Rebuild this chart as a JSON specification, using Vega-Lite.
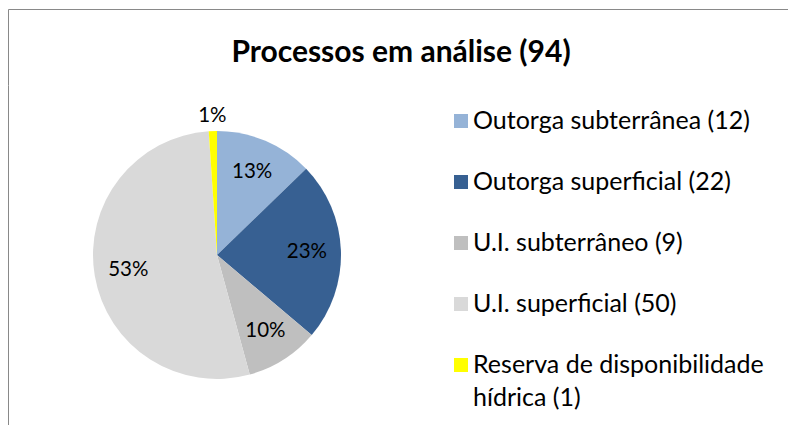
{
  "$schema": "https://vega.github.io/schema/vega-lite/v6.json",
  "padding": {"left": 8, "top": 9, "right": 0, "bottom": 0},
  "background": "white",
  "spacing": 0,
  "config": {
    "view": {"stroke": null},
    "font": "Lato",
    "concat": {"spacing": 0},
    "axis": {"domainColor": "#898989", "domainWidth": 1, "ticks": false, "labels": false, "grid": false, "title": null}
  },
  "datasets": {
    "proc": [
      {"cat": "Outorga subterrânea", "n": 12},
      {"cat": "Outorga superficial", "n": 22},
      {"cat": "U.I. subterrâneo", "n": 9},
      {"cat": "U.I. superficial", "n": 50},
      {"cat": "Reserva de disponibilidade hídrica", "n": 1}
    ]
  },
  "vconcat": [
    {
      "width": 780,
      "height": 76,
      "data": {"values": [{"t": "Processos em análise (94)"}]},
      "layer": [
        {
          "mark": {"type": "text", "fontSize": 30, "fontWeight": "bold", "dx": 3, "dy": 6, "color": "black"},
          "encoding": {"text": {"field": "t"}}
        },
        {
          "mark": {"type": "point", "opacity": 0, "size": 0},
          "encoding": {
            "x": {"datum": 0.5, "type": "quantitative", "scale": {"domain": [0, 1]}, "axis": {"orient": "top"}},
            "y": {"datum": 0.5, "type": "quantitative", "scale": {"domain": [0, 1]}, "axis": {"orient": "left"}}
          }
        }
      ]
    },
    {
      "spacing": 0,
      "hconcat": [
        {
          "width": 418,
          "height": 340,
          "data": {"name": "proc"},
          "transform": [
            {"window": [{"op": "row_number", "as": "rank"}]},
            {"joinaggregate": [{"op": "sum", "field": "n", "as": "total"}]},
            {"calculate": "format(datum.n / datum.total, '.0%')", "as": "pl"}
          ],
          "layer": [
            {
              "mark": {"type": "arc", "radius": 124},
              "encoding": {
                "theta": {"field": "n", "type": "quantitative", "stack": true},
                "order": {"field": "rank"},
                "color": {
                  "field": "cat", "type": "nominal",
                  "scale": {
                    "domain": ["Outorga subterrânea", "Outorga superficial", "U.I. subterrâneo", "U.I. superficial", "Reserva de disponibilidade hídrica"],
                    "range": ["#95B3D7", "#376092", "#BFBFBF", "#D9D9D9", "#FFFF00"]
                  },
                  "legend": null
                }
              }
            },
            {
              "mark": {"type": "text", "radius": 90, "fontSize": 20.5, "color": "black"},
              "encoding": {
                "theta": {"field": "n", "type": "quantitative", "stack": true},
                "order": {"field": "rank"},
                "text": {"field": "pl", "condition": {"test": "datum.n < 2", "value": ""}}
              }
            },
            {
              "mark": {"type": "text", "radius": 139, "fontSize": 20.5, "color": "black"},
              "encoding": {
                "theta": {"field": "n", "type": "quantitative", "stack": true},
                "order": {"field": "rank"},
                "text": {"field": "pl", "condition": {"test": "datum.n >= 2", "value": ""}}
              }
            },
            {
              "mark": {"type": "rule", "opacity": 0},
              "encoding": {
                "y": {"datum": 0.5, "type": "quantitative", "scale": {"domain": [0, 1]}, "axis": {"orient": "left"}}
              }
            }
          ]
        },
        {
          "width": 70,
          "height": 316,
          "data": {"name": "proc"},
          "transform": [
            {"calculate": "replace(datum.cat + ' (' + datum.n + ')', 'disponibilidade ', 'disponibilidade\\n')", "as": "label"}
          ],
          "encoding": {
            "y": {
              "field": "cat", "type": "nominal",
              "sort": ["Outorga subterrânea", "Outorga superficial", "U.I. subterrâneo", "U.I. superficial", "Reserva de disponibilidade hídrica"],
              "scale": {"type": "point", "padding": 0.59},
              "axis": null
            }
          },
          "layer": [
            {
              "mark": {"type": "square", "size": 196, "opacity": 1, "filled": true},
              "encoding": {
                "color": {
                  "field": "cat", "type": "nominal",
                  "scale": {
                    "domain": ["Outorga subterrânea", "Outorga superficial", "U.I. subterrâneo", "U.I. superficial", "Reserva de disponibilidade hídrica"],
                    "range": ["#95B3D7", "#376092", "#BFBFBF", "#D9D9D9", "#FFFF00"]
                  },
                  "legend": null
                }
              }
            },
            {
              "mark": {"type": "text", "align": "left", "dx": 12, "fontSize": 25, "lineBreak": "\n", "lineHeight": 33, "color": "black"},
              "encoding": {"text": {"field": "label"}}
            }
          ]
        }
      ]
    }
  ]
}
